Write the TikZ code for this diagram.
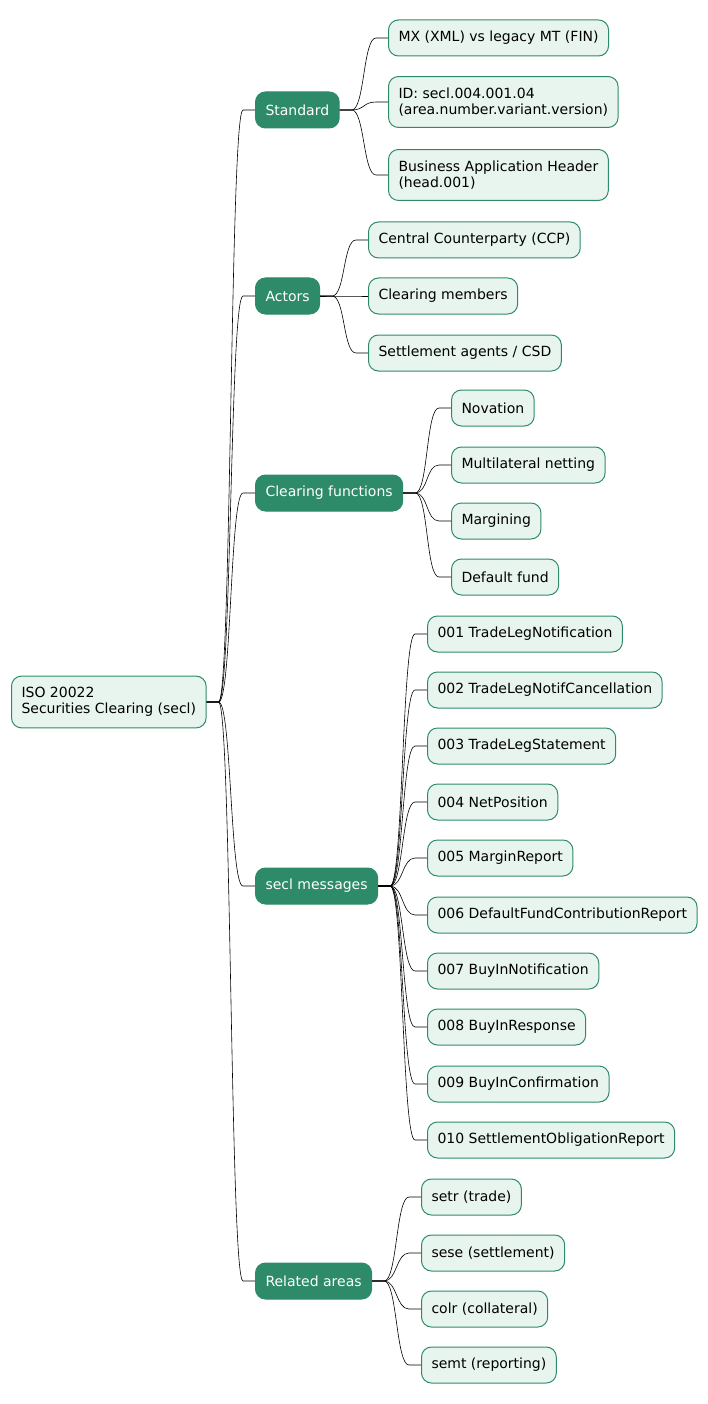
\documentclass[tikz,border=0pt]{standalone}
\usepackage{fontspec}
\setmainfont{DejaVu Sans}
\usetikzlibrary{calc}
\definecolor{mGreen}{HTML}{2E8B69}
\definecolor{mLeaf}{HTML}{E8F5EE}

\begin{document}
\begin{tikzpicture}[x=1pt, y=-1pt,
  leaf/.style={draw=mGreen, fill=mLeaf, line width=1pt, rounded corners=10pt,
               anchor=west, minimum height=36pt, inner xsep=10pt, inner ysep=11pt,
               align=left, font=\fontsize{14}{16.5}\selectfont},
  topic/.style={leaf, fill=mGreen, text=white},
  branch/.style={draw=black, line width=0.6pt},
]
  \useasboundingbox (0,0) rectangle (708,1404);
  % root
  \node[leaf] (root) at (11,702) {ISO 20022\\Securities Clearing (secl)};
  % first level
  \node[topic] (std) at (255,110) {Standard};
  \node[topic] (act) at (255,296) {Actors};
  \node[topic] (clr) at (255,493) {Clearing functions};
  \node[topic] (msg) at (255,886) {secl messages};
  \node[topic] (rel) at (255,1281) {Related areas};
  % Standard
  \node[leaf] (std1) at (388,38) {MX (XML) vs legacy MT (FIN)};
  \node[leaf] (std2) at (388,102) {ID: secl.004.001.04\\(area.number.variant.version)};
  \node[leaf] (std3) at (388,175) {Business Application Header\\(head.001)};
  % Actors
  \node[leaf] (act1) at (368,240) {Central Counterparty (CCP)};
  \node[leaf] (act2) at (368,296) {Clearing members};
  \node[leaf] (act3) at (368,353) {Settlement agents / CSD};
  % Clearing functions
  \node[leaf] (clr1) at (451,408) {Novation};
  \node[leaf] (clr2) at (451,465) {Multilateral netting};
  \node[leaf] (clr3) at (451,521) {Margining};
  \node[leaf] (clr4) at (451,577) {Default fund};
  % secl messages
  \node[leaf] (msg1) at (427,634) {001 TradeLegNotification};
  \node[leaf] (msg2) at (427,690) {002 TradeLegNotifCancellation};
  \node[leaf] (msg3) at (427,746) {003 TradeLegStatement};
  \node[leaf] (msg4) at (427,802) {004 NetPosition};
  \node[leaf] (msg5) at (427,858) {005 MarginReport};
  \node[leaf] (msg6) at (427,915) {006 DefaultFundContributionReport};
  \node[leaf] (msg7) at (427,971) {007 BuyInNotification};
  \node[leaf] (msg8) at (427,1027) {008 BuyInResponse};
  \node[leaf] (msg9) at (427,1084) {009 BuyInConfirmation};
  \node[leaf] (msg10) at (427,1140) {010 SettlementObligationReport};
  % Related areas
  \node[leaf] (rel1) at (421,1197) {setr (trade)};
  \node[leaf] (rel2) at (421,1253) {sese (settlement)};
  \node[leaf] (rel3) at (421,1309) {colr (collateral)};
  \node[leaf] (rel4) at (421,1365) {semt (reporting)};
  % connectors
  \foreach \a/\b in {root/std, root/act, root/clr, root/msg, root/rel,
                     std/std1, std/std2, std/std3,
                     act/act1, act/act2, act/act3,
                     clr/clr1, clr/clr2, clr/clr3, clr/clr4,
                     msg/msg1, msg/msg2, msg/msg3, msg/msg4, msg/msg5,
                     msg/msg6, msg/msg7, msg/msg8, msg/msg9, msg/msg10,
                     rel/rel1, rel/rel2, rel/rel3, rel/rel4}
    \draw[branch] (\a.east) -- ++(12,0) .. controls +(13,0) and ($(\b.west)+(-25,0)$)
      .. ($(\b.west)+(-12,0)$) -- (\b.west);
\end{tikzpicture}
\end{document}
